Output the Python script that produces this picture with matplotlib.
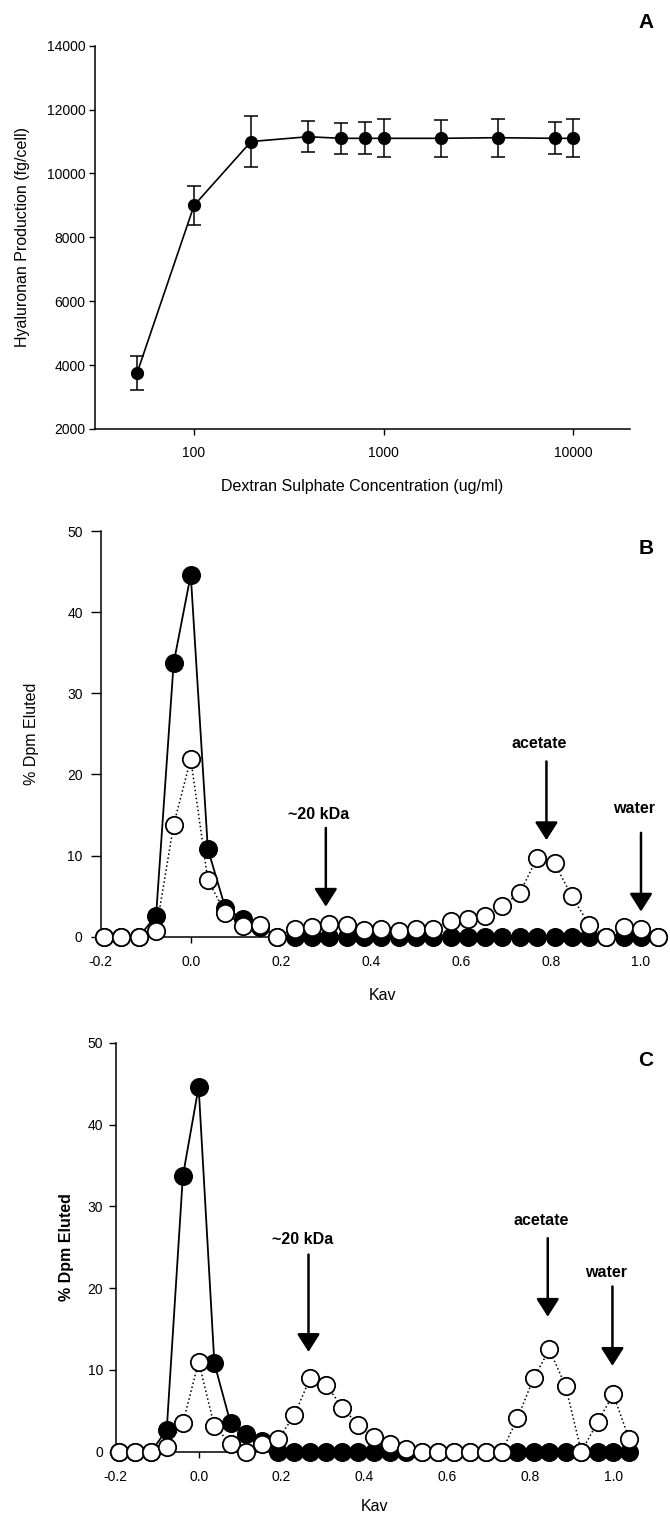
import numpy as np
import matplotlib
matplotlib.use("Agg")
from matplotlib import pyplot as plt

plt.rcParams['font.family'] = ['Liberation Sans', 'DejaVu Sans']
plt.rcParams['axes.unicode_minus'] = False

# panel A: dose response
conc = [50, 100, 200, 400, 600, 800, 1000, 2000, 4000, 8000, 10000]
ha_prod = [3750, 9000, 11000, 11150, 11100, 11100, 11100, 11100, 11120, 11100, 11100]
ha_err = [520, 600, 800, 480, 480, 500, 600, 580, 600, 500, 600]

# panels B and C: column elution profiles
kav = [-0.192, -0.154, -0.115, -0.077, -0.038, 0.0, 0.038, 0.077, 0.115, 0.154,
       0.192, 0.231, 0.269, 0.308, 0.346, 0.385, 0.423, 0.462, 0.5, 0.538,
       0.577, 0.615, 0.654, 0.692, 0.731, 0.769, 0.808, 0.846, 0.885, 0.923,
       0.962, 1.0, 1.038]

b_filled = [0, 0, 0, 2.6, 33.7, 44.6, 10.8, 3.5, 2.2, 1.15,
            0, 0, 0, 0, 0, 0, 0, 0, 0, 0,
            0, 0, 0, 0, 0, 0, 0, 0, 0, 0,
            0, 0, 0]
b_open = [0, 0, 0, 0.75, 13.8, 21.9, 7.0, 2.9, 1.3, 1.5,
          0, 1.0, 1.2, 1.6, 1.4, 0.8, 1.0, 0.75, 1.0, 1.0,
          1.9, 2.2, 2.5, 3.8, 5.4, 9.7, 9.1, 5.0, 1.5, 0,
          1.15, 1.0, 0]

c_filled = [0, 0, 0, 2.65, 33.7, 44.6, 10.8, 3.5, 2.2, 1.3,
            0, 0, 0, 0, 0, 0, 0, 0, 0, 0,
            0, 0, 0, 0, 0, 0, 0, 0, 0, 0,
            0, 0, 0]
c_open = [0, 0, 0, 0.6, 3.5, 11.0, 3.1, 1.0, 0, 1.0,
          1.5, 4.5, 9.0, 8.2, 5.4, 3.3, 1.8, 1.0, 0.3, 0,
          0, 0, 0, 0, 0, 4.1, 9.0, 12.5, 8.0, 0,
          3.6, 7.0, 1.6]

# arrow annotations: label, kav, tip, start, text height
b_marks = [("~20 kDa", 0.30, 3.7, 13.4, 15.1),
           ("acetate", 0.79, 11.9, 21.6, 23.8),
           ("water", 1.0, 3.1, 12.8, 15.8)]
c_marks = [("~20 kDa", 0.265, 12.2, 24.1, 25.9),
           ("acetate", 0.842, 16.5, 26.1, 28.3),
           ("water", 0.998, 10.5, 20.2, 21.9)]

W, H = 670, 1515
fig = plt.figure(figsize=(W / 100, H / 100), dpi=100)


def box(l, t, r, b):
    return [l / W, 1 - b / H, (r - l) / W, (b - t) / H]


def style(ax, ticklen=4, pad=3):
    ax.spines['top'].set_visible(False)
    ax.spines['right'].set_visible(False)
    ax.spines['left'].set_linewidth(1.1)
    ax.spines['bottom'].set_linewidth(1.1)
    ax.tick_params(direction='out', length=ticklen, width=1, labelsize=10, pad=pad)


# ---- A ----
axA = fig.add_axes(box(95, 45.7, 630, 429))
style(axA)
axA.errorbar(conc, ha_prod, yerr=ha_err, color='k', lw=1.2, marker='o', ms=8.5,
             mfc='k', mec='k', capsize=5, elinewidth=1.1, capthick=1.1)
axA.set_xscale('log')
axA.set_xlim(30, 20000)
axA.set_ylim(2000, 14000)
axA.set_xticks([100, 1000, 10000])
axA.set_xticklabels(['100', '1000', '10000'])
axA.minorticks_off()
axA.set_yticks(np.arange(2000, 14001, 2000))
axA.tick_params(axis='x', pad=8)
axA.set_xlabel('Dextran Sulphate Concentration (ug/ml)', fontsize=11.5, labelpad=14)
axA.set_ylabel('Hyaluronan Production (fg/cell)', fontsize=11.5, labelpad=12)
fig.text(646 / W, 1 - 23 / H, 'A', fontsize=15, fontweight='bold', ha='center', va='center')


def profile(ax, filled, opened, marks, bold_label, ticklen, ypad, ylabelpad, xlabelpad):
    style(ax, ticklen, ypad)
    ax.plot(kav, filled, '-', color='k', lw=1.3, marker='o', ms=12.5,
            mfc='k', mec='k', mew=1.2, clip_on=False, zorder=3)
    ax.plot(kav, opened, ':', color='k', lw=1.1, marker='o', ms=12.5,
            mfc='white', mec='k', mew=1.3, clip_on=False, zorder=4)
    ax.set_xlim(-0.2, 1.05)
    ax.set_ylim(0, 50)
    ax.set_xticks([-0.2, 0.0, 0.2, 0.4, 0.6, 0.8, 1.0])
    ax.set_xticklabels(['-0.2', '0.0', '0.2', '0.4', '0.6', '0.8', '1.0'])
    ax.set_yticks([0, 10, 20, 30, 40, 50])
    ax.tick_params(axis='x', length=4, pad=9)
    ax.set_xlabel('Kav', fontsize=11.5, labelpad=xlabelpad)
    ax.set_ylabel('% Dpm Eluted', fontsize=11.5, labelpad=ylabelpad,
                  fontweight='bold' if bold_label else 'normal')
    for label, x, tip, start, ty in marks:
        ax.annotate('', xy=(x, tip), xytext=(x, start),
                    arrowprops=dict(arrowstyle='-|>,head_length=1.1,head_width=0.7',
                                    mutation_scale=10, lw=1.8, color='k',
                                    shrinkA=0, shrinkB=0))
        ax.text(x - 0.015, ty, label, fontsize=11.5, fontweight='bold',
                ha='center', va='center')


# ---- B ----
axB = fig.add_axes(box(100.7, 531, 663.5, 936.7))
profile(axB, b_filled, b_open, b_marks, False, 7, 6, 20, 14)
fig.text(646 / W, 1 - 549 / H, 'B', fontsize=15, fontweight='bold', ha='center', va='center')

# ---- C ----
axC = fig.add_axes(box(115.7, 1042.7, 634, 1451.7))
profile(axC, c_filled, c_open, c_marks, True, 5, 4, 10, 11)
fig.text(646 / W, 1 - 1060 / H, 'C', fontsize=15, fontweight='bold', ha='center', va='center')

fig.savefig('out.png', dpi=100)
